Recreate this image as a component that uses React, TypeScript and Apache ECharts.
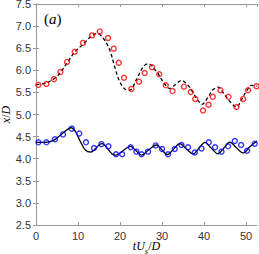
import React, { useEffect, useRef } from "react";
import * as echarts from "echarts";

// Simulation (dashed) – upper body
const redLineX = [0, 2.3, 4.3, 5.9, 7.5, 9.3, 11.3, 13.3, 14.6, 15.9, 17.5, 18.7, 19.8, 21.1, 22.3, 23.9, 25.5, 26.7, 28.7, 30.2, 31.8, 33.2, 34.6, 36.2, 37.4, 38.6, 39.5, 41.0, 42.1, 43.4, 44.5, 46.1, 47.7, 48.9, 50.1, 51.3, 52.6];
const redLineY = [5.675, 5.71, 5.81, 5.96, 6.18, 6.42, 6.6, 6.78, 6.83, 6.74, 6.47, 6.09, 5.77, 5.58, 5.55, 5.79, 6.08, 6.15, 5.97, 5.75, 5.59, 5.68, 5.77, 5.66, 5.49, 5.31, 5.23, 5.4, 5.56, 5.62, 5.5, 5.3, 5.17, 5.33, 5.53, 5.66, 5.64];

// Experiment (red circles)
const redDotX = [0.57, 2.48, 4.29, 5.81, 7.38, 9.21, 11.19, 13.33, 15.17, 17.14, 18.5, 19.69, 20.95, 22.71, 24.52, 25.88, 27.62, 29.33, 30.88, 32.48, 35.21, 36.83, 37.9, 39.76, 41.05, 42.07, 43.9, 45.81, 47.71, 49.29, 50.48, 52.48];
const redDotY = [5.67, 5.69, 5.8, 5.96, 6.19, 6.42, 6.62, 6.79, 6.88, 6.73, 6.49, 6.17, 5.83, 5.58, 5.74, 5.94, 6.07, 5.91, 5.66, 5.53, 5.63, 5.51, 5.35, 5.09, 5.22, 5.4, 5.55, 5.4, 5.17, 5.35, 5.55, 5.64];

// Simulation (solid) – lower body
const blueLineX = [0, 2.3, 4.3, 6.3, 7.6, 8.4, 9.4, 10.6, 11.8, 13.0, 14.2, 15.0, 15.8, 17.0, 18.2, 19.0, 20.2, 21.4, 22.5, 23.7, 25.2, 26.7, 28.7, 30.0, 31.2, 32.7, 34.2, 35.8, 37.4, 38.8, 40.2, 41.7, 43.3, 44.7, 46.1, 47.7, 49.3, 50.9, 52.6];
const blueLineY = [4.37, 4.37, 4.42, 4.57, 4.67, 4.7, 4.61, 4.38, 4.19, 4.15, 4.23, 4.31, 4.34, 4.23, 4.1, 4.08, 4.14, 4.23, 4.28, 4.19, 4.08, 4.19, 4.31, 4.2, 4.09, 4.21, 4.34, 4.22, 4.11, 4.24, 4.37, 4.24, 4.11, 4.24, 4.375, 4.25, 4.13, 4.27, 4.4];

// Experiment (blue circles)
const blueDotX = [0.57, 2.48, 4.52, 6.43, 8.5, 10.29, 11.9, 13.81, 15.57, 17.24, 19.05, 20.52, 22.55, 23.9, 25.12, 26.67, 28.5, 30.0, 31.43, 33.02, 34.62, 36.19, 37.79, 39.38, 41.12, 42.62, 44.14, 45.71, 47.31, 48.81, 50.24, 52.07];
const blueDotY = [4.37, 4.37, 4.44, 4.55, 4.68, 4.57, 4.37, 4.24, 4.33, 4.28, 4.1, 4.1, 4.26, 4.16, 4.1, 4.16, 4.3, 4.22, 4.1, 4.22, 4.31, 4.26, 4.14, 4.23, 4.37, 4.26, 4.16, 4.28, 4.4, 4.31, 4.18, 4.34];

const xTicks = [0, 10, 20, 30, 40, 50];
const yTicks = [2.5, 3.0, 3.5, 4.0, 4.5, 5.0, 5.5, 6.0, 6.5, 7.0, 7.5];

const zip = (xs: number[], ys: number[]) => xs.map((x, i) => [x, ys[i]]);

const FRAME = "#9a9a9a";
const LABEL = "#333";
const SANS = "'Liberation Sans', Arial, sans-serif";
const SERIF = "'Liberation Serif', 'DejaVu Serif', serif";

export default function App() {
  const ref = useRef<HTMLDivElement>(null);
  useEffect(() => {
    const chart = echarts.init(ref.current!, undefined, { renderer: "svg" });
    const xMin = xTicks[0];
    const xMax = 52.6;
    const yMin = yTicks[0];
    const yMax = yTicks[yTicks.length - 1];
    const tick = { show: true, inside: true, length: 3, lineStyle: { color: FRAME, width: 1 } };
    const axLine = { show: true, lineStyle: { color: FRAME, width: 1 } };
    chart.setOption({
      animation: false,
      grid: { left: 36, right: 2, top: 4, bottom: 29, show: false, containLabel: false, outerBoundsMode: "none" },
      graphic: [
        {
          type: "text",
          left: 44,
          top: 11,
          style: {
            text: "({i|a})",
            font: `15px ${SERIF}`,
            fill: "#000",
            rich: { i: { fontStyle: "italic", fontSize: 15, fontFamily: SERIF } },
          },
        },
      ],
      xAxis: [
        {
          type: "value",
          min: xMin,
          max: xMax,
          interval: 10,
          position: "bottom",
          axisLine: axLine,
          axisTick: tick,
          splitLine: { show: false },
          axisLabel: {
            color: LABEL,
            fontSize: 11,
            fontFamily: SANS,
            margin: 5,
            showMaxLabel: false,
            formatter: (v: number) => (xTicks.includes(v) ? String(v) : ""),
          },
          name: "{i|tU}{s|s}{n|/}{i|D}",
          nameLocation: "middle",
          nameGap: 13,
          nameMoveOverlap: false,
          nameTextStyle: {
            rich: {
              i: { fontStyle: "italic", fontSize: 12, fontFamily: SERIF, color: "#000", verticalAlign: "bottom", lineHeight: 14 },
              n: { fontSize: 12, fontFamily: SERIF, color: "#000", verticalAlign: "bottom", lineHeight: 14 },
              s: { fontStyle: "italic", fontSize: 8.5, fontFamily: SERIF, color: "#000", verticalAlign: "bottom", lineHeight: 10, padding: [0, 0, -3, 0] },
            },
          },
        },
        {
          type: "value",
          min: xMin,
          max: xMax,
          interval: 10,
          position: "top",
          axisLine: axLine,
          axisTick: tick,
          axisLabel: { show: false },
          splitLine: { show: false },
        },
      ],
      yAxis: [
        {
          type: "value",
          min: yMin,
          max: yMax,
          interval: 0.5,
          position: "left",
          axisLine: axLine,
          axisTick: tick,
          splitLine: { show: false },
          axisLabel: {
            color: LABEL,
            fontSize: 11,
            fontFamily: SANS,
            margin: 5,
            formatter: (v: number) => v.toFixed(1),
          },
          name: "{i|x}{n|/}{i|D}",
          nameLocation: "middle",
          nameGap: 24,
          nameRotate: 90,
          nameMoveOverlap: false,
          nameTextStyle: {
            rich: {
              i: { fontStyle: "italic", fontSize: 12, fontFamily: SERIF, color: "#000" },
              n: { fontSize: 12, fontFamily: SERIF, color: "#000" },
            },
          },
        },
        {
          type: "value",
          min: yMin,
          max: yMax,
          interval: 0.5,
          position: "right",
          axisLine: axLine,
          axisTick: tick,
          axisLabel: { show: false },
          splitLine: { show: false },
        },
      ],
      series: [
        {
          type: "line",
          data: zip(redLineX, redLineY),
          smooth: 0.35,
          showSymbol: false,
          symbol: "none",
          lineStyle: { color: "#000", width: 1.3, type: [3.5, 2.5] },
          z: 2,
        },
        {
          type: "line",
          data: zip(blueLineX, blueLineY),
          smooth: 0.35,
          showSymbol: false,
          symbol: "none",
          lineStyle: { color: "#000", width: 1.3 },
          z: 2,
        },
        {
          type: "scatter",
          data: zip(redDotX, redDotY),
          symbol: "circle",
          symbolSize: 5,
          itemStyle: { color: "rgba(0,0,0,0)", borderColor: "#ff0000", borderWidth: 1.4 },
          z: 3,
        },
        {
          type: "scatter",
          data: zip(blueDotX, blueDotY),
          symbol: "circle",
          symbolSize: 5,
          itemStyle: { color: "rgba(0,0,0,0)", borderColor: "#0000ff", borderWidth: 1.4 },
          z: 3,
        },
      ],
    });
    return () => chart.dispose();
  }, []);
  return (
    <div
      ref={ref}
      style={{ position: "absolute", left: 0, top: 0, width: 259, height: 254 }}
    />
  );
}
